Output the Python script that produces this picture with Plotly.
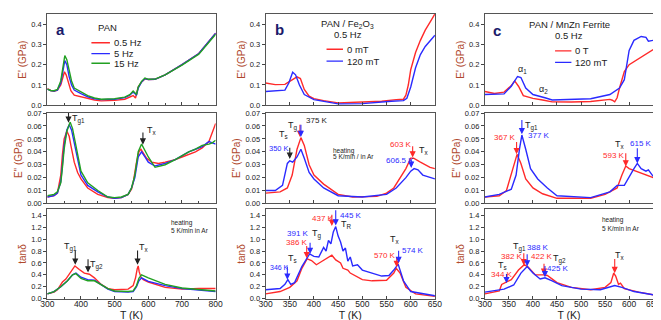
import plotly.graph_objects as go

# ---------------- data ----------------
# panel a : PAN, three frequencies
a_E1_05_T = [300, 310, 320, 330, 340, 345, 351, 356, 362, 370, 380, 400, 420, 440, 460, 500, 530, 545, 555, 562, 566, 570, 580, 590, 600, 620, 650, 700, 750, 800]
a_E1_05 = [0.082, 0.073, 0.069, 0.075, 0.10, 0.13, 0.165, 0.15, 0.11, 0.072, 0.050, 0.042, 0.032, 0.026, 0.022, 0.024, 0.030, 0.040, 0.048, 0.036, 0.060, 0.090, 0.115, 0.130, 0.127, 0.128, 0.150, 0.200, 0.255, 0.355]
a_E1_T = [300, 310, 320, 330, 340, 345, 352, 358, 365, 372, 380, 400, 420, 440, 460, 500, 530, 545, 555, 560, 565, 570, 580, 590, 600, 620, 650, 700, 750, 800]
a_E1_5 = [0.080, 0.072, 0.070, 0.075, 0.11, 0.16, 0.22, 0.20, 0.14, 0.10, 0.075, 0.058, 0.042, 0.032, 0.028, 0.030, 0.038, 0.050, 0.065, 0.058, 0.050, 0.085, 0.115, 0.132, 0.127, 0.128, 0.150, 0.200, 0.255, 0.355]
a_E1_15 = [0.080, 0.073, 0.072, 0.078, 0.12, 0.17, 0.245, 0.225, 0.17, 0.12, 0.085, 0.065, 0.048, 0.036, 0.030, 0.032, 0.040, 0.052, 0.070, 0.062, 0.055, 0.090, 0.118, 0.134, 0.128, 0.129, 0.150, 0.198, 0.252, 0.350]

a_E2_05_T = [300, 320, 330, 340, 345, 350, 358, 365, 370, 380, 390, 400, 420, 450, 480, 500, 520, 540, 550, 555, 565, 572, 578, 585, 595, 610, 630, 650, 680, 700, 720, 740, 760, 780, 790, 800]
a_E2_05 = [0.005, 0.006, 0.008, 0.022, 0.038, 0.050, 0.056, 0.052, 0.045, 0.032, 0.024, 0.019, 0.012, 0.007, 0.0045, 0.004, 0.0045, 0.007, 0.011, 0.016, 0.032, 0.040, 0.042, 0.039, 0.035, 0.032, 0.031, 0.032, 0.034, 0.036, 0.038, 0.040, 0.043, 0.048, 0.055, 0.062]
a_E2_5_T = [300, 320, 330, 340, 345, 350, 358, 365, 372, 380, 390, 400, 420, 450, 480, 500, 520, 540, 550, 560, 570, 580, 590, 600, 620, 650, 680, 700, 720, 740, 760, 780, 790, 800]
a_E2_5 = [0.005, 0.006, 0.008, 0.017, 0.030, 0.045, 0.057, 0.061, 0.057, 0.047, 0.032, 0.022, 0.014, 0.009, 0.005, 0.004, 0.0045, 0.007, 0.012, 0.020, 0.036, 0.040, 0.036, 0.032, 0.029, 0.031, 0.034, 0.037, 0.040, 0.042, 0.044, 0.048, 0.047, 0.046]
a_E2_15_T = [300, 320, 330, 340, 345, 350, 358, 368, 375, 380, 390, 400, 420, 450, 480, 500, 520, 540, 550, 560, 570, 580, 590, 600, 620, 650, 680, 700, 720, 740, 760, 780, 790, 800]
a_E2_15 = [0.006, 0.007, 0.009, 0.016, 0.028, 0.042, 0.056, 0.063, 0.058, 0.051, 0.036, 0.025, 0.016, 0.010, 0.005, 0.0045, 0.005, 0.007, 0.012, 0.022, 0.040, 0.046, 0.041, 0.036, 0.028, 0.030, 0.034, 0.037, 0.040, 0.042, 0.045, 0.046, 0.047, 0.049]

a_tan_05_T = [300, 320, 330, 340, 345, 355, 370, 382, 395, 410, 425, 440, 460, 480, 500, 540, 555, 562, 567, 570, 573, 578, 585, 600, 650, 700, 750, 800]
a_tan_05 = [0.08, 0.11, 0.15, 0.24, 0.28, 0.33, 0.46, 0.55, 0.49, 0.43, 0.41, 0.35, 0.24, 0.17, 0.15, 0.16, 0.22, 0.35, 0.50, 0.55, 0.45, 0.36, 0.32, 0.28, 0.19, 0.16, 0.17, 0.17]
a_tan_T = [300, 320, 340, 360, 375, 385, 400, 420, 440, 460, 480, 500, 540, 555, 565, 572, 580, 600, 650, 700, 750, 800]
a_tan_5 = [0.08, 0.12, 0.20, 0.30, 0.40, 0.43, 0.36, 0.32, 0.31, 0.23, 0.16, 0.12, 0.11, 0.12, 0.20, 0.30, 0.35, 0.29, 0.22, 0.17, 0.14, 0.12]
a_tan_15 = [0.08, 0.12, 0.20, 0.30, 0.40, 0.42, 0.34, 0.30, 0.30, 0.24, 0.17, 0.13, 0.12, 0.13, 0.22, 0.34, 0.40, 0.35, 0.24, 0.18, 0.15, 0.13]

# panel b : PAN / Fe2O3, 0 mT vs 120 mT
b_E1_0_T = [300, 320, 340, 355, 365, 372, 380, 390, 400, 420, 450, 500, 540, 570, 585, 590, 595, 600, 610, 620, 630, 640, 650]
b_E1_0 = [0.110, 0.102, 0.103, 0.125, 0.140, 0.132, 0.078, 0.045, 0.033, 0.023, 0.012, 0.016, 0.020, 0.028, 0.030, 0.050, 0.10, 0.175, 0.26, 0.32, 0.37, 0.41, 0.45]
b_E1_120_T = [300, 320, 340, 348, 356, 362, 370, 380, 400, 450, 500, 560, 585, 592, 600, 610, 620, 630, 640, 650]
b_E1_120 = [0.068, 0.070, 0.075, 0.110, 0.163, 0.150, 0.100, 0.053, 0.028, 0.007, 0.008, 0.020, 0.023, 0.035, 0.090, 0.185, 0.25, 0.29, 0.32, 0.345]

b_E2_0_T = [300, 330, 345, 355, 365, 373, 380, 390, 400, 420, 450, 480, 530, 550, 565, 580, 590, 600, 606, 620, 640, 650]
b_E2_0 = [0.008, 0.009, 0.012, 0.022, 0.042, 0.051, 0.045, 0.030, 0.022, 0.015, 0.007, 0.005, 0.0055, 0.008, 0.012, 0.021, 0.027, 0.035, 0.035, 0.032, 0.028, 0.027]
b_E2_120_T = [300, 320, 335, 345, 350, 356, 365, 373, 380, 390, 400, 420, 450, 500, 550, 570, 590, 600, 607, 615, 625, 635, 650]
b_E2_120 = [0.010, 0.010, 0.014, 0.031, 0.033, 0.032, 0.036, 0.042, 0.035, 0.024, 0.019, 0.012, 0.006, 0.005, 0.007, 0.012, 0.020, 0.025, 0.027, 0.026, 0.022, 0.021, 0.019]

b_tan_0_T = [300, 330, 350, 365, 375, 386, 395, 405, 415, 430, 437, 445, 455, 460, 470, 475, 490, 500, 520, 550, 565, 570, 578, 590, 610, 650]
b_tan_0 = [0.08, 0.12, 0.19, 0.30, 0.51, 0.67, 0.64, 0.57, 0.62, 0.70, 0.73, 0.65, 0.60, 0.51, 0.48, 0.43, 0.36, 0.32, 0.30, 0.31, 0.43, 0.51, 0.43, 0.19, 0.08, 0.04]
b_tan_120_T = [300, 330, 340, 346, 352, 360, 375, 391, 400, 410, 420, 425, 430, 435, 440, 445, 450, 455, 460, 465, 470, 475, 480, 490, 500, 510, 520, 540, 555, 565, 574, 585, 600, 650]
b_tan_120 = [0.15, 0.17, 0.24, 0.32, 0.24, 0.27, 0.54, 0.75, 0.71, 0.70, 0.86, 0.80, 0.98, 0.92, 1.12, 1.21, 1.05, 0.95, 0.80, 0.85, 0.63, 0.70, 0.55, 0.57, 0.48, 0.46, 0.43, 0.38, 0.39, 0.48, 0.58, 0.30, 0.12, 0.05]

# panel c : PAN / MnZn ferrite, 0 T vs 120 mT
c_E1_0_T = [300, 320, 340, 355, 362, 370, 380, 400, 420, 440, 480, 520, 560, 565, 570, 575, 580, 590, 600, 620, 650]
c_E1_0 = [0.068, 0.058, 0.065, 0.097, 0.120, 0.094, 0.048, 0.034, 0.026, 0.017, 0.016, 0.019, 0.029, 0.025, 0.017, 0.037, 0.085, 0.166, 0.200, 0.230, 0.275]
c_E1_120_T = [300, 340, 355, 368, 375, 385, 400, 410, 425, 440, 480, 520, 560, 580, 590, 595, 600, 610, 625, 635, 640, 650]
c_E1_120 = [0.053, 0.056, 0.094, 0.142, 0.137, 0.085, 0.053, 0.048, 0.037, 0.026, 0.029, 0.032, 0.053, 0.085, 0.126, 0.200, 0.270, 0.320, 0.339, 0.335, 0.316, 0.320]

c_E2_0_T = [300, 330, 345, 355, 362, 367, 375, 385, 400, 420, 450, 520, 550, 575, 585, 593, 600, 620, 640, 650]
c_E2_0 = [0.005, 0.006, 0.010, 0.022, 0.032, 0.038, 0.031, 0.019, 0.012, 0.0075, 0.004, 0.004, 0.007, 0.012, 0.022, 0.029, 0.027, 0.024, 0.021, 0.020]
c_E2_120_T = [300, 330, 355, 365, 372, 377, 385, 395, 410, 430, 450, 520, 560, 575, 590, 600, 610, 617, 625, 635, 640, 650]
c_E2_120 = [0.005, 0.007, 0.011, 0.022, 0.042, 0.053, 0.042, 0.027, 0.019, 0.012, 0.006, 0.0045, 0.009, 0.014, 0.014, 0.021, 0.027, 0.031, 0.027, 0.025, 0.026, 0.021]

c_tan_0_T = [300, 330, 335, 344, 355, 370, 382, 390, 405, 422, 430, 450, 480, 520, 550, 562, 568, 572, 578, 582, 590, 620, 650]
c_tan_0 = [0.08, 0.13, 0.24, 0.27, 0.32, 0.48, 0.57, 0.53, 0.40, 0.40, 0.39, 0.27, 0.19, 0.15, 0.19, 0.27, 0.43, 0.38, 0.24, 0.26, 0.17, 0.11, 0.065]
c_tan_120_T = [300, 340, 360, 375, 388, 400, 415, 425, 440, 460, 500, 540, 570, 585, 610, 650]
c_tan_120 = [0.11, 0.16, 0.23, 0.43, 0.54, 0.43, 0.33, 0.35, 0.30, 0.22, 0.16, 0.15, 0.22, 0.19, 0.12, 0.065]

RED = "#ff2a2a"
BLUE = "#2a2aff"
GREEN = "#22a022"
TITLE_COL = "#b0482c"
FONT = "Liberation Sans, Arial, sans-serif"

W, H = 661, 320
col_px = [(33, 205), (256, 429), (480, 652)]
row_px = [(2, 96), (104, 197), (203, 295)]
x_ranges = [[300, 800], [300, 650], [300, 650]]
y_ranges = [[0, 0.45], [0, 0.07], [0, 1.5]]
y_dticks = [0.1, 0.01, 0.2]
y_fmt = [".1f", ".2f", ".1f"]
y_titles = ["E' (GPa)", 'E" (GPa)', "tanδ"]

fig = go.Figure()


def ax(n):
    return "" if n == 1 else str(n)


def curve(n, T, vals, color):
    fig.add_trace(go.Scatter(
        x=T, y=vals, mode="lines", line=dict(color=color, width=1.4),
        xaxis="x" + ax(n), yaxis="y" + ax(n), showlegend=False,
    ))


curves = [
    (1, a_E1_05_T, a_E1_05, RED), (1, a_E1_T, a_E1_5, BLUE), (1, a_E1_T, a_E1_15, GREEN),
    (4, a_E2_05_T, a_E2_05, RED), (4, a_E2_5_T, a_E2_5, BLUE), (4, a_E2_15_T, a_E2_15, GREEN),
    (7, a_tan_05_T, a_tan_05, RED), (7, a_tan_T, a_tan_5, BLUE), (7, a_tan_T, a_tan_15, GREEN),
    (2, b_E1_0_T, b_E1_0, RED), (2, b_E1_120_T, b_E1_120, BLUE),
    (5, b_E2_0_T, b_E2_0, RED), (5, b_E2_120_T, b_E2_120, BLUE),
    (8, b_tan_0_T, b_tan_0, RED), (8, b_tan_120_T, b_tan_120, BLUE),
    (3, c_E1_0_T, c_E1_0, RED), (3, c_E1_120_T, c_E1_120, BLUE),
    (6, c_E2_0_T, c_E2_0, RED), (6, c_E2_120_T, c_E2_120, BLUE),
    (9, c_tan_0_T, c_tan_0, RED), (9, c_tan_120_T, c_tan_120, BLUE),
]
for n, T, v, c in curves:
    curve(n, T, v, c)

layout = dict(
    width=W, height=H, margin=dict(l=0, r=0, t=0, b=0),
    plot_bgcolor="white", paper_bgcolor="white",
    font=dict(family=FONT, size=8, color="#222"),
)
for r in range(3):
    for c in range(3):
        n = r * 3 + c + 1
        x0, x1 = col_px[c]
        y0, y1 = row_px[r]
        layout["xaxis" + ax(n)] = dict(
            domain=[x0 / W, x1 / W], range=x_ranges[c], anchor="y" + ax(n),
            dtick=100 if c == 0 else 50, tick0=300,
            minor=dict(dtick=50, ticks="inside", ticklen=2) if c == 0 else None,
            ticks="inside", ticklen=3, showline=True, mirror=True,
            linecolor="#555", linewidth=1, showgrid=False, zeroline=False,
            showticklabels=(r == 2), tickfont=dict(size=8.5), ticklabelstandoff=-3,
            title=dict(text="T (K)", font=dict(size=10.5, color="#222"), standoff=0) if r == 2 else None,
        )
        layout["yaxis" + ax(n)] = dict(
            domain=[1 - y1 / H, 1 - y0 / H], range=y_ranges[r], anchor="x" + ax(n),
            dtick=y_dticks[r], tickformat=y_fmt[r], ticks="outside", ticklen=3,
            showline=True, mirror=True, linecolor="#555", linewidth=1,
            showgrid=False, zeroline=False, tickfont=dict(size=7.5),
            title=dict(text=y_titles[r], font=dict(size=10, color=TITLE_COL), standoff=2),
        )
fig.update_layout(**layout)

annotations = []
shapes = []


def label(n, x, y, text, color="#222", size=8, xanchor="center"):
    annotations.append(dict(
        x=x, y=y, xref="x" + ax(n), yref="y" + ax(n), text=text, showarrow=False,
        xanchor=xanchor, yanchor="middle",
        font=dict(size=size, color=color, family=FONT), align="left",
    ))


def arrow(n, x, y, color="#222", length=12):
    # small downward arrow whose tip sits at (x, y); drawn in pixel units around the anchor
    shapes.append(dict(
        type="path", xref="x" + ax(n), yref="y" + ax(n),
        xsizemode="pixel", ysizemode="pixel", xanchor=x, yanchor=y,
        path=f"M0,{length} L0,3 M-2.2,4.5 L0,0 L2.2,4.5 Z",
        line=dict(color=color, width=1.1), fillcolor=color,
    ))


def legend_item(n, x0, x1, y, color, text):
    shapes.append(dict(type="line", xref="x" + ax(n), yref="y" + ax(n),
                       x0=x0, x1=x1, y0=y, y1=y, line=dict(color=color, width=1.3)))
    label(n, x1 + (x1 - x0) * 0.12, y, text, size=9.5, xanchor="left")


def panel_letter(n, x, y, letter):
    label(n, x, y, "<b>" + letter + "</b>", color="#1a1a6a", size=15)


# panel a
panel_letter(1, 340, 0.372, "a")
label(1, 478, 0.385, "PAN", size=9.5)
legend_item(1, 431, 486, 0.308, RED, "0.5 Hz")
legend_item(1, 431, 486, 0.255, BLUE, "5 Hz")
legend_item(1, 431, 486, 0.207, GREEN, "15 Hz")
arrow(4, 363, 0.0635, length=10)
label(4, 368, 0.0655, "T<sub>g1</sub>", size=9, xanchor="left")
arrow(4, 584, 0.0465, length=11)
label(4, 590, 0.0565, "T<sub>x</sub>", size=9, xanchor="left")
label(7, 660, 1.27, "heating", size=6.5, xanchor="left")
label(7, 660, 1.15, "5 K/min in Ar", size=6.5, xanchor="left")
label(7, 368, 0.86, "T<sub>g1</sub>", size=9)
arrow(7, 383, 0.59, length=13)
arrow(7, 421, 0.46, length=12)
label(7, 446, 0.57, "T<sub>g2</sub>", size=9)
arrow(7, 568, 0.59, length=13)
label(7, 588, 0.86, "T<sub>x</sub>", size=9)

# panel b
panel_letter(2, 328, 0.375, "b")
label(2, 470, 0.40, "PAN / Fe<sub>2</sub>O<sub>3</sub>", size=9.5)
label(2, 470, 0.347, "0.5 Hz", size=9.5)
legend_item(2, 426, 460, 0.276, RED, "0 mT")
legend_item(2, 426, 460, 0.218, BLUE, "120 mT")
label(5, 338, 0.0535, "T<sub>s</sub>", size=9)
arrow(5, 350, 0.0355, length=10)
label(5, 303, 0.0425, "350 K", color=BLUE, size=7.5, xanchor="left")
label(5, 357, 0.060, "T<sub>g</sub>", size=9)
arrow(5, 371, 0.0525, color=RED, length=11)
arrow(5, 373, 0.0525, color=BLUE, length=11)
label(5, 380, 0.0645, "375 K", size=8, xanchor="left")
label(5, 436, 0.041, "heating", size=6.5, xanchor="left")
label(5, 436, 0.036, "5 K/min / in Ar", size=6.5, xanchor="left")
label(5, 580, 0.046, "603 K", color=RED, size=8)
arrow(5, 604, 0.0365, color=RED, length=10)
label(5, 612, 0.041, "T<sub>x</sub>", size=9, xanchor="left")
label(5, 577, 0.033, "606.5 K", color=BLUE, size=8)
arrow(5, 601, 0.0285, color=BLUE, length=7)
label(8, 304, 0.53, "346 K", color=BLUE, size=7, xanchor="left")
arrow(8, 345, 0.34, color=BLUE, length=12)
label(8, 356, 0.68, "T<sub>s</sub>", size=9)
label(8, 366, 1.10, "391 K", color=BLUE, size=8)
arrow(8, 392, 0.77, color=BLUE, length=10)
label(8, 406, 1.09, "T<sub>g</sub>", size=9)
label(8, 364, 0.94, "386 K", color=RED, size=8)
arrow(8, 385, 0.70, color=RED, length=11)
label(8, 419, 1.35, "437 K", color=RED, size=8)
arrow(8, 437, 1.24, color=RED, length=10)
label(8, 450, 1.40, "445 K", color=BLUE, size=8, xanchor="left")
arrow(8, 445, 1.25, color=BLUE, length=14)
label(8, 467, 1.24, "T<sub>R</sub>", size=9)
label(8, 568, 1.00, "T<sub>x</sub>", size=9)
label(8, 547, 0.73, "570 K", color=RED, size=8)
arrow(8, 571, 0.55, color=RED, length=8)
label(8, 578, 0.81, "574 K", color=BLUE, size=8, xanchor="left")
arrow(8, 575, 0.62, color=BLUE, length=11)

# panel c
panel_letter(3, 326, 0.368, "c")
label(3, 476, 0.40, "PAN / MnZn Ferrite", size=9.5)
label(3, 476, 0.343, "0.5 Hz", size=9.5)
legend_item(3, 446, 480, 0.268, RED, "0 T")
legend_item(3, 446, 480, 0.211, BLUE, "120 mT")
label(3, 378, 0.176, "α<sub>1</sub>", size=9)
label(3, 422, 0.076, "α<sub>2</sub>", size=9)
label(6, 342, 0.051, "367 K", color=RED, size=8)
arrow(6, 366, 0.039, color=RED, length=11)
label(6, 380, 0.060, "T<sub>g1</sub>", size=9, xanchor="left")
arrow(6, 377, 0.0545, color=BLUE, length=13)
label(6, 385, 0.053, "377 K", color=BLUE, size=8, xanchor="left")
label(6, 582, 0.046, "T<sub>x</sub>", size=9)
label(6, 569, 0.037, "593 K", color=RED, size=8)
arrow(6, 593, 0.0295, color=RED, length=12)
label(6, 598, 0.0465, "615 K", color=BLUE, size=8, xanchor="left")
arrow(6, 617, 0.032, color=BLUE, length=14)
label(9, 540, 1.32, "heating", size=6.5, xanchor="left")
label(9, 540, 1.18, "5 K/min in Ar", size=6.5, xanchor="left")
label(9, 337, 0.56, "T<sub>s</sub>", size=9)
label(9, 336, 0.40, "344 K", color=RED, size=8)
arrow(9, 345, 0.28, color=BLUE, length=8)
label(9, 372, 0.86, "T<sub>g1</sub>", size=9)
label(9, 357, 0.71, "382 K", color=RED, size=8)
arrow(9, 381, 0.58, color=RED, length=11)
label(9, 410, 0.86, "388 K", color=BLUE, size=8)
arrow(9, 388, 0.56, color=BLUE, length=11)
label(9, 418, 0.71, "422 K", color=RED, size=8)
arrow(9, 423, 0.42, color=RED, length=10)
label(9, 455, 0.67, "T<sub>g2</sub>", size=9)
label(9, 452, 0.50, "425 K", color=BLUE, size=8)
arrow(9, 425, 0.38, color=BLUE, length=10)
label(9, 580, 0.73, "T<sub>x</sub>", size=9)
arrow(9, 570, 0.45, color=RED, length=13)

fig.update_layout(annotations=annotations, shapes=shapes)
fig.write_html("out.html")
